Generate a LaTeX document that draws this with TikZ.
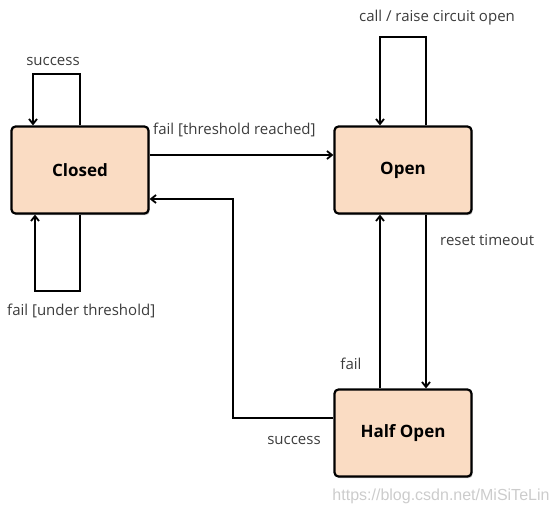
\documentclass[tikz,border=0pt]{standalone}
\usepackage{fontspec}
\setmainfont{Open Sans}
\newfontfamily\markfont{Liberation Sans}
\definecolor{statefill}{RGB}{250,220,195}
\definecolor{labelgray}{RGB}{60,60,60}
\usetikzlibrary{arrows.meta,positioning,shadows}

\begin{document}
\begin{tikzpicture}[x=1pt, y=-1pt,
    every node/.style={font=\fontsize{15}{18}\selectfont},
    state/.style={draw, line width=2.2pt, rounded corners=4pt, fill=statefill,
        minimum width=137pt, minimum height=87pt, font=\fontsize{17}{20}\selectfont\bfseries,
        drop shadow={shadow xshift=1.2pt, shadow yshift=-1.6pt, opacity=0.25, fill=black}},
    flow/.style={line width=1.9pt, -{Straight Barb[length=5pt, width=8pt, line width=1.8pt]}},
    tag/.style={text=labelgray, inner sep=0pt}]
    \useasboundingbox (0,0) rectangle (558,517);

    % States
    \node[state] (closed) at (80,170) {Closed};
    \node[state] (open) at (403,170) {Open};
    \node[state] (halfopen) at (403,433) {Half Open};

    % Transitions
    \draw[flow] (closed.north) -- ++(0,-51) -| ([xshift=-47pt]closed.north);
    \draw[flow] (closed.south) -- ++(0,76) -| ([xshift=-45pt]closed.south);
    \draw[flow] ([yshift=15pt]closed.east) -- ([yshift=15pt]open.west);
    \draw[flow] ([xshift=23pt]open.north) -- ++(0,-88) -| ([xshift=-23pt]open.north);
    \draw[flow] ([xshift=23pt]open.south) -- ([xshift=23pt]halfopen.north);
    \draw[flow] ([xshift=-23pt]halfopen.north) -- ([xshift=-23pt]open.south);
    \draw[flow] ([yshift=15pt]halfopen.west) -- ++(-100,0) |- ([yshift=-29pt]closed.east);

    % Labels
    \node[tag] (lsuccesstop) at (53,61) {success};
    \node[tag, right] (lthreshold) at (153,130) {fail [threshold reached]};
    \node[tag] (lcall) at (437,18) {call / raise circuit open};
    \node[tag, right] (lunder) at (7,311) {fail [under threshold]};
    \node[tag, right] (lreset) at (440,240) {reset timeout};
    \node[tag] (lfail) at (351,364) {fail};
    \node[tag] (lsuccessbot) at (294,440) {success};

    % Watermark
    \node[text=black!20, font=\markfont\fontsize{16}{19}\selectfont] (mark) at (441,496) {https://blog.csdn.net/MiSiTeLin};
\end{tikzpicture}
\end{document}
